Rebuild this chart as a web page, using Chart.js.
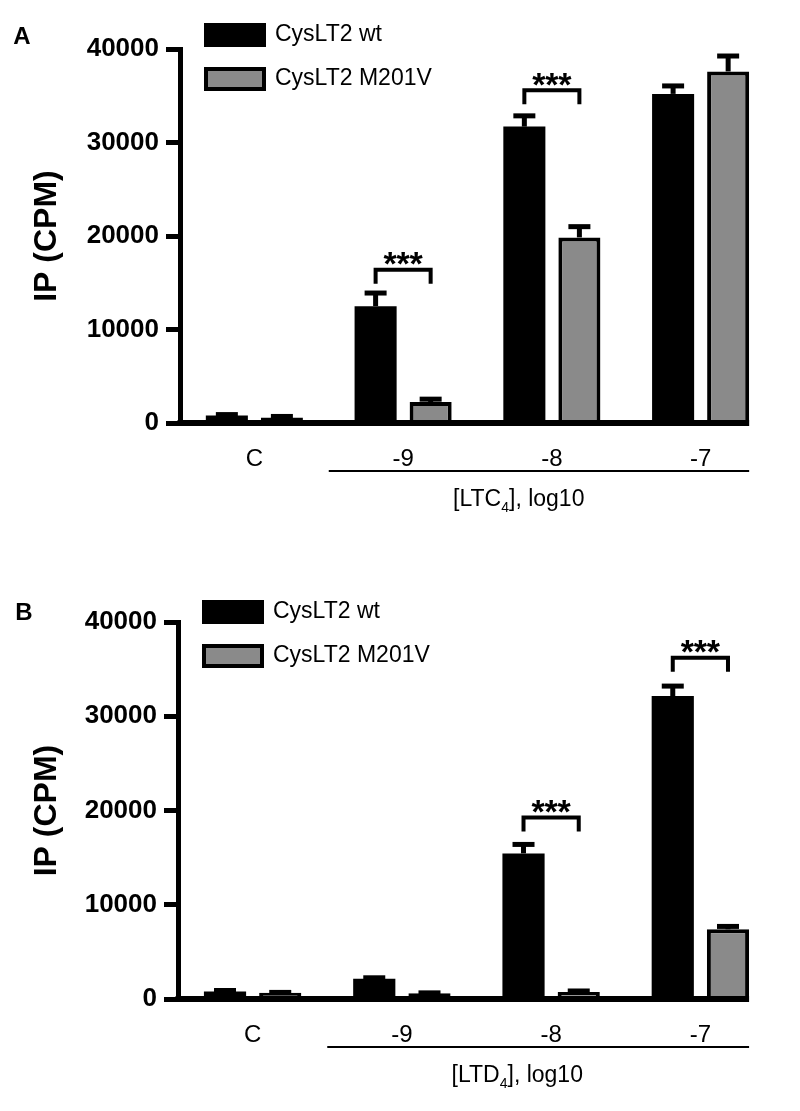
<!DOCTYPE html>
<html>
<head>
<meta charset="utf-8">
<script src="https://cdn.jsdelivr.net/npm/chart.js@4.4.0/dist/chart.umd.min.js"></script>
<style>
  html, body { margin: 0; padding: 0; background: #fff; }
  .panel { position: absolute; left: 0; width: 800px; }
  #wrapA { top: 0; height: 555px; }
  #wrapB { top: 555px; height: 556px; }
</style>
</head>
<body>
<div class="panel" id="wrapA"><canvas id="chartA" width="800" height="555"></canvas></div>
<div class="panel" id="wrapB"><canvas id="chartB" width="800" height="556"></canvas></div>
<script>
// agonist concentration groups
const categories = ['C', '-9', '-8', '-7'];
const seriesNames = ['CysLT2 wt', 'CysLT2 M201V'];
const yTicks = [0, 10000, 20000, 30000, 40000];

// panel A: LTC4
const ltcWt = [800, 12500, 31700, 35200];
const ltcWtErr = [100, 1400, 1150, 850];
const ltcMut = [600, 2250, 19850, 37600];
const ltcMutErr = [100, 300, 1150, 1650];
const ltcSig = [{ index: 1, top: 16400 }, { index: 2, top: 35600 }];

// panel B: LTD4
const ltdWt = [800, 2150, 15450, 32150];
const ltdWtErr = [100, 100, 950, 1050];
const ltdMut = [650, 600, 750, 7400];
const ltdMutErr = [50, 50, 100, 300];
const ltdSig = [{ index: 2, top: 19250 }, { index: 3, top: 36200 }];

const FONT = "'Liberation Sans', Arial, sans-serif";
const GREY = '#8a8a8a';

function overlayPlugin(p) {
  return {
    id: 'overlay' + p.letter,
    afterDatasetsDraw(chart) {
      const ctx = chart.ctx;
      const x = chart.scales.x, y = chart.scales.y;
      const area = chart.chartArea;
      ctx.save();
      ctx.strokeStyle = '#000';
      ctx.fillStyle = '#000';

      // error bars (upper only)
      [[p.wt, p.wtErr], [p.mut, p.mutErr]].forEach(([vals, errs], di) => {
        chart.getDatasetMeta(di).data.forEach((bar, j) => {
          const y0 = y.getPixelForValue(vals[j]);
          const y1 = y.getPixelForValue(vals[j] + errs[j]);
          ctx.lineWidth = 5;
          ctx.beginPath(); ctx.moveTo(bar.x, y0); ctx.lineTo(bar.x, y1); ctx.stroke();
          ctx.beginPath(); ctx.moveTo(bar.x - 11, y1); ctx.lineTo(bar.x + 11, y1); ctx.stroke();
        });
      });

      // x axis line up to the last bar
      const last = chart.getDatasetMeta(1).data[categories.length - 1];
      const xEnd = last.x + last.width / 2;
      ctx.lineWidth = 6;
      ctx.beginPath(); ctx.moveTo(area.left - 2.5, area.bottom); ctx.lineTo(xEnd, area.bottom); ctx.stroke();

      // significance brackets
      p.sig.forEach(s => {
        const a = chart.getDatasetMeta(0).data[s.index].x;
        const b = chart.getDatasetMeta(1).data[s.index].x;
        const t = y.getPixelForValue(s.top);
        ctx.lineWidth = 4;
        ctx.beginPath();
        ctx.moveTo(a, t + 14); ctx.lineTo(a, t); ctx.lineTo(b, t); ctx.lineTo(b, t + 14);
        ctx.stroke();
        ctx.font = 'bold 34px ' + FONT;
        ctx.textAlign = 'center';
        ctx.textBaseline = 'alphabetic';
        const m = ctx.measureText('*');
        const base = t - 11 + (m.actualBoundingBoxAscent - m.actualBoundingBoxDescent) / 2;
        const cx = (a + b) / 2;
        [-13, 0, 13].forEach(dx => ctx.fillText('*', cx + dx, base));
      });

      // concentration underline and axis title
      const ux0 = x.getPixelForValue(0.5);
      const uy = area.bottom + 48;
      ctx.lineWidth = 2;
      ctx.beginPath(); ctx.moveTo(ux0, uy); ctx.lineTo(xEnd, uy); ctx.stroke();

      ctx.font = '23px ' + FONT;
      ctx.textBaseline = 'middle';
      ctx.textAlign = 'left';
      const part1 = '[' + p.agonist;
      const part2 = '], log10';
      const subFont = '14px ' + FONT;
      const w1 = ctx.measureText(part1).width;
      ctx.font = subFont; const ws = ctx.measureText('4').width;
      ctx.font = '23px ' + FONT; const w2 = ctx.measureText(part2).width;
      const tx = ux0 + 190 - (w1 + ws + w2) / 2;
      const ty = uy + 29;
      ctx.fillText(part1, tx, ty);
      ctx.font = subFont; ctx.fillText('4', tx + w1, ty + 8);
      ctx.font = '23px ' + FONT; ctx.fillText(part2, tx + w1 + ws, ty);

      // legend
      const lx = p.legendX, ly = p.legendY;
      ctx.fillStyle = '#000';
      ctx.fillRect(lx, ly, 62, 24);
      ctx.fillStyle = GREY;
      ctx.fillRect(lx + 2, ly + 46, 58, 20);
      ctx.lineWidth = 4;
      ctx.strokeRect(lx + 2, ly + 46, 58, 20);
      ctx.fillStyle = '#000';
      ctx.font = '23px ' + FONT;
      ctx.textAlign = 'left';
      ctx.fillText(seriesNames[0], lx + 71, ly + 12);
      ctx.fillText(seriesNames[1], lx + 71, ly + 56);

      // panel letter
      ctx.font = 'bold 24px ' + FONT;
      ctx.textAlign = 'center';
      ctx.fillText(p.letter, p.letterX, p.letterY);
      ctx.restore();
    }
  };
}

function buildChart(p) {
  return new Chart(document.getElementById(p.canvas), {
    type: 'bar',
    data: {
      labels: categories,
      datasets: [{
        label: seriesNames[0],
        data: p.wt,
        backgroundColor: '#000',
        borderColor: '#000',
        borderWidth: 0,
        categoryPercentage: 0.74,
        barPercentage: 0.764,
      }, {
        label: seriesNames[1],
        data: p.mut,
        backgroundColor: GREY,
        borderColor: '#000',
        borderWidth: 4,
        categoryPercentage: 0.74,
        barPercentage: 0.764,
      }],
    },
    options: {
      responsive: false,
      animation: false,
      events: [],
      layout: { padding: p.padding },
      plugins: { legend: { display: false }, tooltip: { enabled: false } },
      scales: {
        x: {
          grid: { display: false, drawTicks: false },
          border: { display: false },
          ticks: { color: '#000', font: { family: FONT, size: 24 }, padding: 22 },
          afterFit: s => { s.height = 60; },
        },
        y: {
          min: 0,
          max: 40000,
          afterBuildTicks: s => { s.ticks = yTicks.map(v => ({ value: v })); },
          grid: { drawOnChartArea: false, tickLength: 14, tickWidth: 5, tickColor: '#000' },
          border: { width: 5, color: '#000' },
          ticks: {
            color: '#000', padding: 7,
            font: { family: FONT, size: 26, weight: 'bold' },
            callback: v => String(v),
          },
          title: {
            display: true, text: 'IP (CPM)', color: '#000',
            font: { family: FONT, size: 32, weight: 'bold' },
            padding: { top: 28, bottom: 0 },
          },
          afterFit: s => { s.width = p.axisX; },
        },
      },
    },
    plugins: [overlayPlugin(p)],
  });
}

buildChart({
  canvas: 'chartA', letter: 'A', agonist: 'LTC',
  wt: ltcWt, wtErr: ltcWtErr, mut: ltcMut, mutErr: ltcMutErr, sig: ltcSig,
  padding: { top: 49, right: 25, bottom: 72, left: 0 }, axisX: 180,
  legendX: 204, legendY: 23, letterX: 22, letterY: 37,
});

buildChart({
  canvas: 'chartB', letter: 'B', agonist: 'LTD',
  wt: ltdWt, wtErr: ltdWtErr, mut: ltdMut, mutErr: ltdMutErr, sig: ltdSig,
  padding: { top: 67, right: 25, bottom: 52, left: 0 }, axisX: 178,
  legendX: 202, legendY: 45, letterX: 24, letterY: 58,
});
</script>
</body>
</html>
